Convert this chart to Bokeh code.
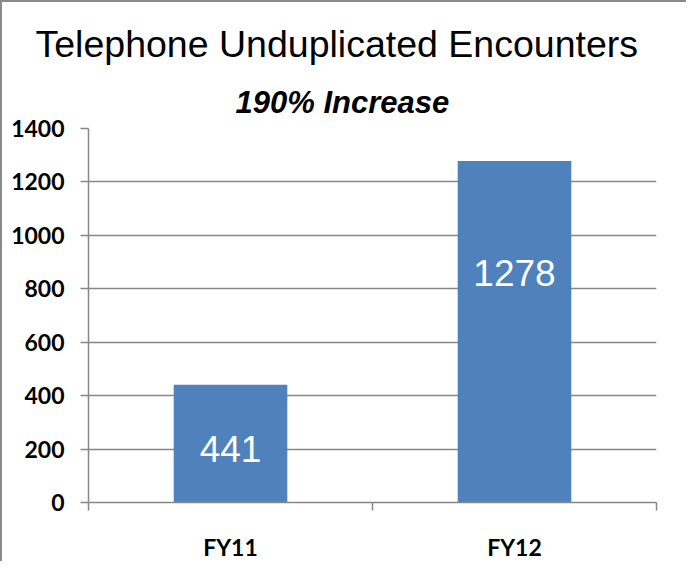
from bokeh.plotting import figure
from bokeh.models import ColumnDataSource, Range1d, FixedTicker, Title, LinearAxis, Grid
from bokeh.embed import file_html
from bokeh.resources import INLINE
from bokeh.core.properties import value

# ---- data ----
categories = ["FY11", "FY12"]
encounters = [441, 1278]
y_ticks = [0, 200, 400, 600, 800, 1000, 1200, 1400]
title_text = "Telephone Unduplicated Encounters"
subtitle_text = "190% Increase"

# ---- styling (label offsets in pixels below bar top) ----
label_offsets = [64, 112]
BAR = "#4F81BD"
GRID = "#878787"

xs = [i + 0.5 for i in range(len(categories))]
src = ColumnDataSource(dict(x=xs, top=encounters,
                            label=[str(v) for v in encounters],
                            off=label_offsets))

p = figure(width=686, height=561, output_backend="svg", toolbar_location=None,
           x_range=Range1d(0, len(categories)), y_range=Range1d(0, 1400),
           x_axis_type=None, y_axis_type=None,
           min_border_left=86, min_border_right=32, min_border_top=126,
           min_border_bottom=61)
p.outline_line_color = None
p.background_fill_color = "white"
p.border_fill_color = "white"
p.styles = {"border-left": "2px solid #8a8a8a", "border-top": "2px solid #8a8a8a"}

p.title.text = title_text
p.title.align = "left"
p.title.offset = -53
p.title.standoff = 17
p.title.text_font = "Liberation Sans"
p.title.text_font_style = "normal"
p.title.text_font_size = "37.5px"
p.title.text_color = "black"
p.add_layout(Title(text=subtitle_text, align="left", offset=147, standoff=18,
                   text_font="Liberation Sans",
                   text_font_size="31px", text_font_style="bold italic",
                   text_color="black"), "above")

ygrid = Grid(dimension=1, ticker=FixedTicker(ticks=y_ticks),
             grid_line_color=GRID, grid_line_width=1.5)
p.add_layout(ygrid)

p.vbar(x="x", top="top", width=0.4, source=src, fill_color=BAR, line_color=None)
p.text(x="x", y="top", text="label", source=src, y_offset="off",
       text_align="center", text_baseline="middle", text_color="white",
       text_font=value("Liberation Sans"), text_font_size="37px")

yaxis = LinearAxis(ticker=FixedTicker(ticks=y_ticks))
yaxis.axis_line_color = GRID
yaxis.axis_line_width = 1.5
yaxis.major_tick_line_color = GRID
yaxis.major_tick_line_width = 1.5
yaxis.major_tick_out = 8
yaxis.major_tick_in = 0
yaxis.minor_tick_line_color = None
yaxis.major_label_standoff = 16
yaxis.major_label_text_font = "Lato"
yaxis.major_label_text_font_style = "bold"
yaxis.major_label_text_font_size = "23px"
yaxis.major_label_text_color = "black"
p.add_layout(yaxis, "left")

xaxis = LinearAxis(ticker=FixedTicker(ticks=xs, minor_ticks=list(range(len(categories) + 1))))
xaxis.major_label_overrides = {x: c for x, c in zip(xs, categories)}
xaxis.axis_line_color = GRID
xaxis.axis_line_width = 1.5
xaxis.major_tick_line_color = None
xaxis.major_tick_out = 8
xaxis.minor_tick_line_color = GRID
xaxis.minor_tick_line_width = 1.5
xaxis.minor_tick_out = 8
xaxis.minor_tick_in = 0
xaxis.major_label_standoff = 22
xaxis.major_label_text_font = "Lato"
xaxis.major_label_text_font_style = "bold"
xaxis.major_label_text_font_size = "23px"
xaxis.major_label_text_color = "black"
p.add_layout(xaxis, "below")

open("out.html", "w").write(file_html(p, INLINE))
